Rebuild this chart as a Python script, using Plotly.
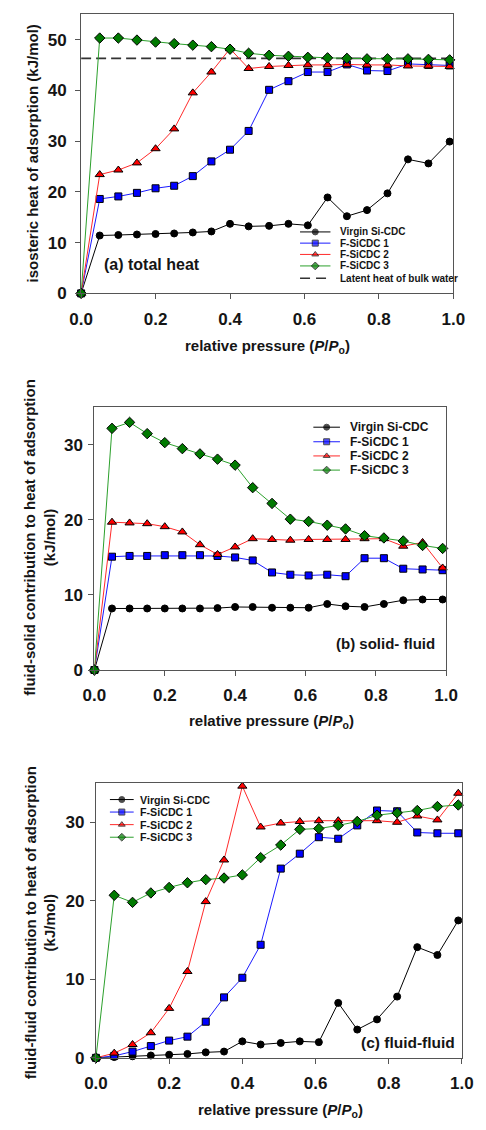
import plotly.graph_objects as go

W, H = 486, 1130

# relative pressure P/Po at which each heat value was evaluated
p_rel = [0.0, 0.05, 0.10, 0.15, 0.20, 0.25, 0.30, 0.35, 0.40, 0.45,
         0.505, 0.557, 0.609, 0.662, 0.714, 0.768, 0.823, 0.878, 0.933, 0.99]

series_names = ["Virgin Si-CDC", "F-SiCDC 1", "F-SiCDC 2", "F-SiCDC 3"]

# (a) total isosteric heat of adsorption, kJ/mol
total_virgin = [0, 11.4, 11.5, 11.6, 11.7, 11.8, 12.0, 12.2, 13.7, 13.2,
                13.3, 13.7, 13.4, 18.9, 15.2, 16.4, 19.7, 26.4, 25.6, 29.9]
total_f1 = [0, 18.6, 19.1, 19.8, 20.7, 21.2, 23.1, 26.0, 28.3, 32.0,
            40.1, 41.8, 43.6, 43.6, 45.1, 43.9, 43.8, 45.2, 45.0, 44.9]
total_f2 = [0, 23.4, 24.3, 25.7, 28.5, 32.4, 39.5, 43.6, 48.2, 44.3,
            44.7, 44.9, 45.0, 45.0, 45.1, 45.0, 45.0, 44.8, 44.8, 44.7]
total_f3 = [0, 50.3, 50.3, 49.9, 49.5, 49.2, 48.9, 48.6, 48.1, 47.3,
            46.9, 46.7, 46.5, 46.4, 46.3, 46.2, 46.2, 46.2, 46.1, 46.0]
latent_heat = 46.3

# (b) fluid-solid contribution, kJ/mol
sf_virgin = [0, 8.2, 8.2, 8.2, 8.2, 8.2, 8.2, 8.25, 8.4, 8.4,
             8.3, 8.3, 8.3, 8.8, 8.5, 8.4, 8.8, 9.3, 9.4, 9.4]
sf_f1 = [0, 15.1, 15.2, 15.2, 15.3, 15.3, 15.3, 15.2, 15.0, 14.6,
         13.0, 12.7, 12.6, 12.7, 12.5, 14.9, 14.9, 13.5, 13.4, 13.3]
sf_f2 = [0, 19.7, 19.6, 19.5, 19.1, 18.4, 16.7, 15.4, 16.4, 17.5,
         17.4, 17.3, 17.4, 17.4, 17.4, 17.5, 17.5, 16.5, 17.0, 13.6]
sf_f3 = [0, 32.2, 33.0, 31.5, 30.3, 29.5, 28.8, 28.1, 27.3, 24.3,
         22.2, 20.1, 19.8, 19.3, 18.8, 17.9, 17.6, 17.2, 16.6, 16.2]

# (c) fluid-fluid contribution, kJ/mol
ff_virgin = [0, 0.1, 0.2, 0.3, 0.4, 0.5, 0.7, 0.8, 2.1, 1.7,
             1.9, 2.1, 2.0, 7.0, 3.6, 4.9, 7.8, 14.1, 13.1, 17.5]
ff_f1 = [0, 0.25, 0.8, 1.5, 2.2, 2.7, 4.6, 7.7, 10.2, 14.4,
         24.1, 26.0, 28.1, 27.9, 29.6, 31.5, 31.4, 28.7, 28.6, 28.6]
ff_f2 = [0, 0.6, 1.7, 3.2, 6.3, 11.0, 19.9, 25.2, 34.6, 29.4,
         29.9, 30.1, 30.2, 30.2, 30.2, 30.2, 30.0, 30.8, 30.3, 33.7]
ff_f3 = [0, 20.7, 19.8, 21.0, 21.7, 22.3, 22.7, 22.9, 23.3, 25.5,
         27.1, 29.1, 29.2, 29.6, 30.1, 30.9, 31.2, 31.5, 32.0, 32.2]

x_ticks = [0.0, 0.2, 0.4, 0.6, 0.8, 1.0]
x_title = "relative pressure (<i>P</i>/<i>P</i><sub>o</sub>)"
panel_labels = ["(a) total heat", "(b) solid- fluid", "(c) fluid-fluid"]
y_titles = ["isosteric heat of adsorption (kJ/mol)",
            "fluid-solid contribution to heat of adsorption<br>(kJ/mol)",
            "fluid-fluid contribution to heat of adsorption<br>(kJ/mol)"]
latent_name = "Latent heat of bulk water"

FONT = "Liberation Sans, Arial, sans-serif"
TXT = "#151515"
line_colors = ["#000000", "#1a1aff", "#ff2a2a", "#2ca02c"]
fill_colors = ["#000000", "#0000ff", "#ff0000", "#007a00"]
symbols = ["circle", "square", "triangle-up", "diamond"]
sizes = [7, 7, 8, 8]


def px_x(v):
    return v / W


def px_y(v):
    return 1 - v / H


# panel frames in pixels: left, right, top, bottom
frames = [(72.7, 464.3, 14.3, 296.0),
          (86.7, 456.7, 411.0, 676.0),
          (88.3, 473.3, 790.0, 1067.3)]
y_ranges = [[0, 55], [0, 35], [0, 35]]
panel_data = [[total_virgin, total_f1, total_f2, total_f3],
              [sf_virgin, sf_f1, sf_f2, sf_f3],
              [ff_virgin, ff_f1, ff_f2, ff_f3]]

fig = go.Figure()
layout_axes = {}
annotations = []

for i, (frame, yr, dat) in enumerate(zip(frames, y_ranges, panel_data)):
    n = "" if i == 0 else str(i + 1)
    l, r, t, b = frame
    layout_axes["xaxis" + n] = dict(
        domain=[px_x(l), px_x(r)], range=[0, 1], anchor="y" + n,
        tickvals=x_ticks, ticktext=["%.1f" % v for v in x_ticks],
        ticks="outside", ticklen=5, tickcolor="#555", tickwidth=1,
        showline=True, linecolor="#555", linewidth=1, mirror=True,
        showgrid=False, zeroline=False, ticklabelstandoff=5,
        tickfont=dict(family=FONT, size=17, color=TXT, weight="bold"))
    layout_axes["yaxis" + n] = dict(
        domain=[px_y(b), px_y(t)], range=yr, anchor="x" + n,
        dtick=10, tick0=0, ticks="outside", ticklen=5, tickcolor="#555",
        tickwidth=1, showline=True, linecolor="#555", linewidth=1,
        mirror=True, showgrid=False, zeroline=False,
        ticklabelstandoff=5 if i == 0 else 2,
        tickfont=dict(family=FONT, size=17, color=TXT, weight="bold"))
    if i == 0:
        fig.add_trace(go.Scatter(
            x=[0, 1], y=[latent_heat, latent_heat], mode="lines",
            line=dict(color="#333", width=1.6, dash="10px,5px"),
            xaxis="x" + n, yaxis="y" + n, showlegend=False,
            cliponaxis=False))
    for k in range(4):
        fig.add_trace(go.Scatter(
            x=p_rel, y=dat[k], mode="lines+markers", name=series_names[k],
            line=dict(color=line_colors[k], width=1),
            marker=dict(symbol=symbols[k], size=sizes[k], color=fill_colors[k],
                        line=dict(color="#000", width=1)),
            xaxis="x" + n, yaxis="y" + n, showlegend=False, cliponaxis=False))

# axis titles
x_title_pos = [(269, 350), (273, 728), (282, 1120)]
for (cx, cy) in x_title_pos:
    annotations.append(dict(
        x=px_x(cx), y=px_y(cy), xref="paper", yref="paper", text=x_title,
        showarrow=False, xanchor="center", yanchor="middle",
        font=dict(family=FONT, size=15, color=TXT, weight="bold")))
y_title_pos = [(22, 155), (29, 542), (30, 931)]
for (cx, cy), txt in zip(y_title_pos, y_titles):
    annotations.append(dict(
        x=px_x(cx), y=px_y(cy), xref="paper", yref="paper", text=txt,
        showarrow=False, xanchor="center", yanchor="middle", textangle=-90,
        font=dict(family=FONT, size=15, color=TXT, weight="bold")))

# panel captions
caption_pos = [(95, 267, "left", 16), (447, 649, "right", 15),
               (468, 1052, "right", 15.5)]
for (cx, cy, anc, fs), txt in zip(caption_pos, panel_labels):
    annotations.append(dict(
        x=px_x(cx), y=px_y(cy), xref="paper", yref="paper", text=txt,
        showarrow=False, xanchor=anc, yanchor="middle",
        font=dict(family=FONT, size=fs, color=TXT, weight="bold")))

# per-panel legends: sample line start/end, text x, row ys, font size
legends = [
    (303, 335, 343, [234, 245.3, 256.7, 268.3, 280.7], 10, 6),
    (317, 345, 353, [431, 445.7, 460, 474.3], 12, 6),
    (103, 128, 133, [806.7, 819.3, 832, 844.7], 10.7, 6),
]
for li, (x0, x1, tx, rows, fs, ms) in enumerate(legends):
    for k in range(4):
        ry = rows[k]
        fig.add_trace(go.Scatter(
            x=[x0, (x0 + x1) / 2, x1], y=[ry, ry, ry], mode="lines+markers",
            line=dict(color=line_colors[k], width=1),
            marker=dict(symbol=symbols[k], size=[0, ms, 0],
                        color=fill_colors[k], line=dict(color="#000", width=[0, 1, 0])),
            xaxis="x4", yaxis="y4", showlegend=False, hoverinfo="skip",
            cliponaxis=False))
        annotations.append(dict(
            x=px_x(tx), y=px_y(ry), xref="paper", yref="paper",
            text=series_names[k], showarrow=False, xanchor="left",
            yanchor="middle",
            font=dict(family=FONT, size=fs, color=TXT, weight="bold")))
    if li == 0:
        ry = rows[4]
        fig.add_trace(go.Scatter(
            x=[x0, x1], y=[ry, ry], mode="lines",
            line=dict(color="#333", width=1.6, dash="10px,6px"),
            xaxis="x4", yaxis="y4", showlegend=False, hoverinfo="skip",
            cliponaxis=False))
        annotations.append(dict(
            x=px_x(tx), y=px_y(ry), xref="paper", yref="paper",
            text=latent_name, showarrow=False, xanchor="left",
            yanchor="middle",
            font=dict(family=FONT, size=fs, color=TXT, weight="bold")))

# full-page pixel overlay used for legend samples
layout_axes["xaxis4"] = dict(domain=[0, 1], range=[0, W], visible=False,
                             anchor="y4", fixedrange=True)
layout_axes["yaxis4"] = dict(domain=[0, 1], range=[H, 0], visible=False,
                             anchor="x4", fixedrange=True)

fig.update_layout(
    width=W, height=H, margin=dict(l=0, r=0, t=0, b=0),
    paper_bgcolor="white", plot_bgcolor="rgba(0,0,0,0)",
    showlegend=False, annotations=annotations, **layout_axes)

fig.write_html("out.html")
